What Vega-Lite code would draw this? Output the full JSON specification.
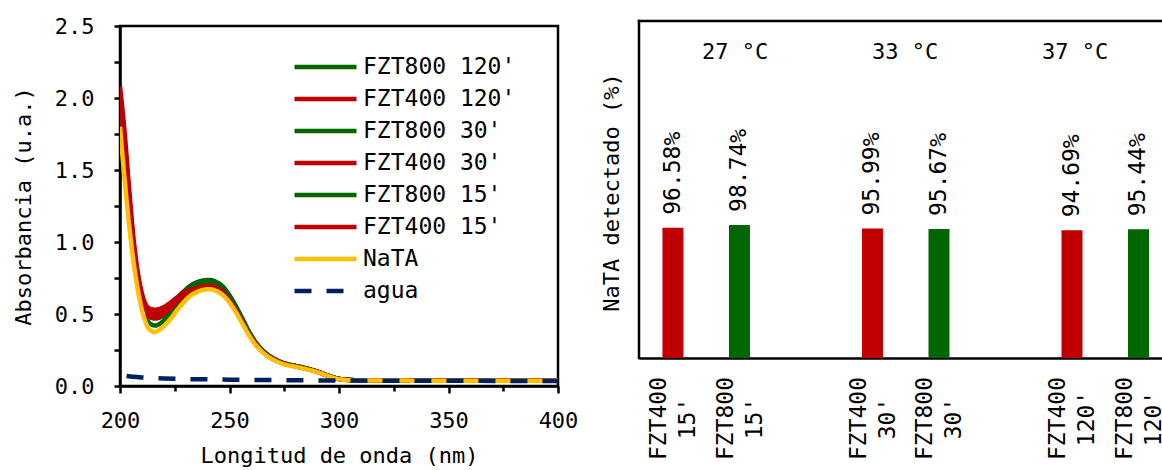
{
  "$schema": "https://vega.github.io/schema/vega-lite/v6.json",
  "background": "white",
  "padding": {"left": 11, "top": 13, "right": 0, "bottom": 0},
  "spacing": 20,
  "resolve": {
    "scale": {"color": "independent", "strokeDash": "independent"},
    "legend": {"color": "independent", "strokeDash": "independent"}
  },
  "config": {
    "font": "DejaVu Sans Mono",
    "axis": {
      "labelFont": "DejaVu Sans Mono",
      "titleFont": "DejaVu Sans Mono",
      "labelFontSize": 22,
      "titleFontSize": 22,
      "titleFontWeight": "normal",
      "labelColor": "black",
      "titleColor": "black",
      "domainColor": "black",
      "tickColor": "black",
      "domainWidth": 2.5,
      "tickWidth": 2.5,
      "labelFlush": false,
      "grid": false
    },
    "legend": {
      "labelFont": "DejaVu Sans Mono",
      "labelFontSize": 23,
      "labelColor": "black"
    }
  },
  "datasets": {
    "espectros": [
      {"s":"FZT800 120'","nm":200,"a":1.88},{"s":"FZT800 120'","nm":202,"a":1.57},{"s":"FZT800 120'","nm":204,"a":1.26},{"s":"FZT800 120'","nm":206,"a":0.99},{"s":"FZT800 120'","nm":208,"a":0.78},{"s":"FZT800 120'","nm":210,"a":0.63},{"s":"FZT800 120'","nm":212,"a":0.54},{"s":"FZT800 120'","nm":214,"a":0.505},{"s":"FZT800 120'","nm":216,"a":0.5},{"s":"FZT800 120'","nm":218,"a":0.505},{"s":"FZT800 120'","nm":220,"a":0.52},{"s":"FZT800 120'","nm":223,"a":0.56},{"s":"FZT800 120'","nm":226,"a":0.607},{"s":"FZT800 120'","nm":229,"a":0.655},{"s":"FZT800 120'","nm":232,"a":0.695},{"s":"FZT800 120'","nm":235,"a":0.72},{"s":"FZT800 120'","nm":238,"a":0.733},{"s":"FZT800 120'","nm":241,"a":0.736},{"s":"FZT800 120'","nm":244,"a":0.722},{"s":"FZT800 120'","nm":247,"a":0.69},{"s":"FZT800 120'","nm":250,"a":0.63},{"s":"FZT800 120'","nm":253,"a":0.552},{"s":"FZT800 120'","nm":256,"a":0.465},{"s":"FZT800 120'","nm":259,"a":0.376},{"s":"FZT800 120'","nm":262,"a":0.303},{"s":"FZT800 120'","nm":265,"a":0.25},{"s":"FZT800 120'","nm":268,"a":0.212},{"s":"FZT800 120'","nm":271,"a":0.185},{"s":"FZT800 120'","nm":275,"a":0.158},{"s":"FZT800 120'","nm":280,"a":0.141},{"s":"FZT800 120'","nm":285,"a":0.123},{"s":"FZT800 120'","nm":290,"a":0.101},{"s":"FZT800 120'","nm":295,"a":0.073},{"s":"FZT800 120'","nm":300,"a":0.05},{"s":"FZT800 120'","nm":305,"a":0.042},{"s":"FZT800 120'","nm":310,"a":0.04},{"s":"FZT800 120'","nm":350,"a":0.038},{"s":"FZT800 120'","nm":400,"a":0.037},
      {"s":"FZT400 120'","nm":200,"a":2.08},{"s":"FZT400 120'","nm":202,"a":1.78},{"s":"FZT400 120'","nm":204,"a":1.4},{"s":"FZT400 120'","nm":206,"a":1.05},{"s":"FZT400 120'","nm":208,"a":0.8},{"s":"FZT400 120'","nm":210,"a":0.645},{"s":"FZT400 120'","nm":212,"a":0.56},{"s":"FZT400 120'","nm":214,"a":0.535},{"s":"FZT400 120'","nm":216,"a":0.53},{"s":"FZT400 120'","nm":218,"a":0.535},{"s":"FZT400 120'","nm":220,"a":0.548},{"s":"FZT400 120'","nm":223,"a":0.578},{"s":"FZT400 120'","nm":226,"a":0.615},{"s":"FZT400 120'","nm":229,"a":0.652},{"s":"FZT400 120'","nm":232,"a":0.68},{"s":"FZT400 120'","nm":235,"a":0.697},{"s":"FZT400 120'","nm":238,"a":0.707},{"s":"FZT400 120'","nm":241,"a":0.709},{"s":"FZT400 120'","nm":244,"a":0.696},{"s":"FZT400 120'","nm":247,"a":0.665},{"s":"FZT400 120'","nm":250,"a":0.605},{"s":"FZT400 120'","nm":253,"a":0.53},{"s":"FZT400 120'","nm":256,"a":0.446},{"s":"FZT400 120'","nm":259,"a":0.362},{"s":"FZT400 120'","nm":262,"a":0.293},{"s":"FZT400 120'","nm":265,"a":0.242},{"s":"FZT400 120'","nm":268,"a":0.207},{"s":"FZT400 120'","nm":271,"a":0.181},{"s":"FZT400 120'","nm":275,"a":0.155},{"s":"FZT400 120'","nm":280,"a":0.138},{"s":"FZT400 120'","nm":285,"a":0.121},{"s":"FZT400 120'","nm":290,"a":0.1},{"s":"FZT400 120'","nm":295,"a":0.072},{"s":"FZT400 120'","nm":300,"a":0.049},{"s":"FZT400 120'","nm":305,"a":0.041},{"s":"FZT400 120'","nm":310,"a":0.039},{"s":"FZT400 120'","nm":350,"a":0.037},{"s":"FZT400 120'","nm":400,"a":0.036},
      {"s":"FZT800 30'","nm":200,"a":1.86},{"s":"FZT800 30'","nm":202,"a":1.54},{"s":"FZT800 30'","nm":204,"a":1.23},{"s":"FZT800 30'","nm":206,"a":0.96},{"s":"FZT800 30'","nm":208,"a":0.76},{"s":"FZT800 30'","nm":210,"a":0.61},{"s":"FZT800 30'","nm":212,"a":0.52},{"s":"FZT800 30'","nm":214,"a":0.48},{"s":"FZT800 30'","nm":216,"a":0.47},{"s":"FZT800 30'","nm":218,"a":0.475},{"s":"FZT800 30'","nm":220,"a":0.495},{"s":"FZT800 30'","nm":223,"a":0.54},{"s":"FZT800 30'","nm":226,"a":0.59},{"s":"FZT800 30'","nm":229,"a":0.64},{"s":"FZT800 30'","nm":232,"a":0.68},{"s":"FZT800 30'","nm":235,"a":0.705},{"s":"FZT800 30'","nm":238,"a":0.72},{"s":"FZT800 30'","nm":241,"a":0.724},{"s":"FZT800 30'","nm":244,"a":0.712},{"s":"FZT800 30'","nm":247,"a":0.68},{"s":"FZT800 30'","nm":250,"a":0.622},{"s":"FZT800 30'","nm":253,"a":0.545},{"s":"FZT800 30'","nm":256,"a":0.46},{"s":"FZT800 30'","nm":259,"a":0.372},{"s":"FZT800 30'","nm":262,"a":0.3},{"s":"FZT800 30'","nm":265,"a":0.247},{"s":"FZT800 30'","nm":268,"a":0.21},{"s":"FZT800 30'","nm":271,"a":0.183},{"s":"FZT800 30'","nm":275,"a":0.157},{"s":"FZT800 30'","nm":280,"a":0.14},{"s":"FZT800 30'","nm":285,"a":0.122},{"s":"FZT800 30'","nm":290,"a":0.1},{"s":"FZT800 30'","nm":295,"a":0.072},{"s":"FZT800 30'","nm":300,"a":0.05},{"s":"FZT800 30'","nm":305,"a":0.042},{"s":"FZT800 30'","nm":310,"a":0.04},{"s":"FZT800 30'","nm":350,"a":0.038},{"s":"FZT800 30'","nm":400,"a":0.037},
      {"s":"FZT400 30'","nm":200,"a":2.04},{"s":"FZT400 30'","nm":202,"a":1.73},{"s":"FZT400 30'","nm":204,"a":1.36},{"s":"FZT400 30'","nm":206,"a":1.02},{"s":"FZT400 30'","nm":208,"a":0.78},{"s":"FZT400 30'","nm":210,"a":0.62},{"s":"FZT400 30'","nm":212,"a":0.535},{"s":"FZT400 30'","nm":214,"a":0.505},{"s":"FZT400 30'","nm":216,"a":0.5},{"s":"FZT400 30'","nm":218,"a":0.505},{"s":"FZT400 30'","nm":220,"a":0.52},{"s":"FZT400 30'","nm":223,"a":0.555},{"s":"FZT400 30'","nm":226,"a":0.597},{"s":"FZT400 30'","nm":229,"a":0.638},{"s":"FZT400 30'","nm":232,"a":0.668},{"s":"FZT400 30'","nm":235,"a":0.688},{"s":"FZT400 30'","nm":238,"a":0.7},{"s":"FZT400 30'","nm":241,"a":0.703},{"s":"FZT400 30'","nm":244,"a":0.69},{"s":"FZT400 30'","nm":247,"a":0.66},{"s":"FZT400 30'","nm":250,"a":0.6},{"s":"FZT400 30'","nm":253,"a":0.527},{"s":"FZT400 30'","nm":256,"a":0.443},{"s":"FZT400 30'","nm":259,"a":0.36},{"s":"FZT400 30'","nm":262,"a":0.292},{"s":"FZT400 30'","nm":265,"a":0.241},{"s":"FZT400 30'","nm":268,"a":0.206},{"s":"FZT400 30'","nm":271,"a":0.18},{"s":"FZT400 30'","nm":275,"a":0.155},{"s":"FZT400 30'","nm":280,"a":0.138},{"s":"FZT400 30'","nm":285,"a":0.121},{"s":"FZT400 30'","nm":290,"a":0.099},{"s":"FZT400 30'","nm":295,"a":0.071},{"s":"FZT400 30'","nm":300,"a":0.049},{"s":"FZT400 30'","nm":305,"a":0.041},{"s":"FZT400 30'","nm":310,"a":0.039},{"s":"FZT400 30'","nm":350,"a":0.037},{"s":"FZT400 30'","nm":400,"a":0.036},
      {"s":"FZT800 15'","nm":200,"a":1.84},{"s":"FZT800 15'","nm":202,"a":1.5},{"s":"FZT800 15'","nm":204,"a":1.19},{"s":"FZT800 15'","nm":206,"a":0.93},{"s":"FZT800 15'","nm":208,"a":0.72},{"s":"FZT800 15'","nm":210,"a":0.57},{"s":"FZT800 15'","nm":212,"a":0.47},{"s":"FZT800 15'","nm":214,"a":0.43},{"s":"FZT800 15'","nm":216,"a":0.42},{"s":"FZT800 15'","nm":218,"a":0.43},{"s":"FZT800 15'","nm":220,"a":0.455},{"s":"FZT800 15'","nm":223,"a":0.505},{"s":"FZT800 15'","nm":226,"a":0.565},{"s":"FZT800 15'","nm":229,"a":0.62},{"s":"FZT800 15'","nm":232,"a":0.663},{"s":"FZT800 15'","nm":235,"a":0.69},{"s":"FZT800 15'","nm":238,"a":0.707},{"s":"FZT800 15'","nm":241,"a":0.712},{"s":"FZT800 15'","nm":244,"a":0.7},{"s":"FZT800 15'","nm":247,"a":0.67},{"s":"FZT800 15'","nm":250,"a":0.615},{"s":"FZT800 15'","nm":253,"a":0.54},{"s":"FZT800 15'","nm":256,"a":0.455},{"s":"FZT800 15'","nm":259,"a":0.37},{"s":"FZT800 15'","nm":262,"a":0.297},{"s":"FZT800 15'","nm":265,"a":0.245},{"s":"FZT800 15'","nm":268,"a":0.208},{"s":"FZT800 15'","nm":271,"a":0.182},{"s":"FZT800 15'","nm":275,"a":0.156},{"s":"FZT800 15'","nm":280,"a":0.139},{"s":"FZT800 15'","nm":285,"a":0.121},{"s":"FZT800 15'","nm":290,"a":0.1},{"s":"FZT800 15'","nm":295,"a":0.072},{"s":"FZT800 15'","nm":300,"a":0.05},{"s":"FZT800 15'","nm":305,"a":0.042},{"s":"FZT800 15'","nm":310,"a":0.04},{"s":"FZT800 15'","nm":350,"a":0.038},{"s":"FZT800 15'","nm":400,"a":0.037},
      {"s":"FZT400 15'","nm":200,"a":2.0},{"s":"FZT400 15'","nm":202,"a":1.68},{"s":"FZT400 15'","nm":204,"a":1.31},{"s":"FZT400 15'","nm":206,"a":0.99},{"s":"FZT400 15'","nm":208,"a":0.76},{"s":"FZT400 15'","nm":210,"a":0.6},{"s":"FZT400 15'","nm":212,"a":0.51},{"s":"FZT400 15'","nm":214,"a":0.475},{"s":"FZT400 15'","nm":216,"a":0.47},{"s":"FZT400 15'","nm":218,"a":0.48},{"s":"FZT400 15'","nm":220,"a":0.5},{"s":"FZT400 15'","nm":223,"a":0.54},{"s":"FZT400 15'","nm":226,"a":0.585},{"s":"FZT400 15'","nm":229,"a":0.628},{"s":"FZT400 15'","nm":232,"a":0.66},{"s":"FZT400 15'","nm":235,"a":0.68},{"s":"FZT400 15'","nm":238,"a":0.692},{"s":"FZT400 15'","nm":241,"a":0.695},{"s":"FZT400 15'","nm":244,"a":0.683},{"s":"FZT400 15'","nm":247,"a":0.652},{"s":"FZT400 15'","nm":250,"a":0.595},{"s":"FZT400 15'","nm":253,"a":0.522},{"s":"FZT400 15'","nm":256,"a":0.44},{"s":"FZT400 15'","nm":259,"a":0.358},{"s":"FZT400 15'","nm":262,"a":0.29},{"s":"FZT400 15'","nm":265,"a":0.24},{"s":"FZT400 15'","nm":268,"a":0.205},{"s":"FZT400 15'","nm":271,"a":0.179},{"s":"FZT400 15'","nm":275,"a":0.154},{"s":"FZT400 15'","nm":280,"a":0.137},{"s":"FZT400 15'","nm":285,"a":0.12},{"s":"FZT400 15'","nm":290,"a":0.099},{"s":"FZT400 15'","nm":295,"a":0.071},{"s":"FZT400 15'","nm":300,"a":0.049},{"s":"FZT400 15'","nm":305,"a":0.041},{"s":"FZT400 15'","nm":310,"a":0.039},{"s":"FZT400 15'","nm":350,"a":0.037},{"s":"FZT400 15'","nm":400,"a":0.036},
      {"s":"NaTA","nm":200,"a":1.8},{"s":"NaTA","nm":202,"a":1.45},{"s":"NaTA","nm":204,"a":1.14},{"s":"NaTA","nm":206,"a":0.88},{"s":"NaTA","nm":208,"a":0.68},{"s":"NaTA","nm":210,"a":0.53},{"s":"NaTA","nm":212,"a":0.43},{"s":"NaTA","nm":214,"a":0.385},{"s":"NaTA","nm":216,"a":0.375},{"s":"NaTA","nm":218,"a":0.39},{"s":"NaTA","nm":220,"a":0.415},{"s":"NaTA","nm":223,"a":0.465},{"s":"NaTA","nm":226,"a":0.525},{"s":"NaTA","nm":229,"a":0.58},{"s":"NaTA","nm":232,"a":0.625},{"s":"NaTA","nm":235,"a":0.652},{"s":"NaTA","nm":238,"a":0.668},{"s":"NaTA","nm":241,"a":0.672},{"s":"NaTA","nm":244,"a":0.66},{"s":"NaTA","nm":247,"a":0.63},{"s":"NaTA","nm":250,"a":0.58},{"s":"NaTA","nm":253,"a":0.51},{"s":"NaTA","nm":256,"a":0.43},{"s":"NaTA","nm":259,"a":0.35},{"s":"NaTA","nm":262,"a":0.285},{"s":"NaTA","nm":265,"a":0.235},{"s":"NaTA","nm":268,"a":0.2},{"s":"NaTA","nm":271,"a":0.175},{"s":"NaTA","nm":275,"a":0.15},{"s":"NaTA","nm":280,"a":0.134},{"s":"NaTA","nm":285,"a":0.117},{"s":"NaTA","nm":290,"a":0.097},{"s":"NaTA","nm":295,"a":0.07},{"s":"NaTA","nm":300,"a":0.048},{"s":"NaTA","nm":305,"a":0.04},{"s":"NaTA","nm":310,"a":0.038},{"s":"NaTA","nm":350,"a":0.037},{"s":"NaTA","nm":400,"a":0.036},
      {"s":"agua","nm":203,"a":0.07},{"s":"agua","nm":206,"a":0.064},{"s":"agua","nm":210,"a":0.059},{"s":"agua","nm":215,"a":0.055},{"s":"agua","nm":220,"a":0.052},{"s":"agua","nm":230,"a":0.048},{"s":"agua","nm":240,"a":0.046},{"s":"agua","nm":250,"a":0.044},{"s":"agua","nm":270,"a":0.041},{"s":"agua","nm":300,"a":0.038},{"s":"agua","nm":350,"a":0.036},{"s":"agua","nm":400,"a":0.035}
    ],
    "nata": [
      {"muestra":"FZT400 15'","material":"FZT400","p":0.9658},
      {"muestra":"FZT800 15'","material":"FZT800","p":0.9874},
      {"muestra":"FZT400 30'","material":"FZT400","p":0.9599},
      {"muestra":"FZT800 30'","material":"FZT800","p":0.9567},
      {"muestra":"FZT400 120'","material":"FZT400","p":0.9469},
      {"muestra":"FZT800 120'","material":"FZT800","p":0.9544}
    ],
    "temperaturas": [
      {"t":"27 °C","orden":1},
      {"t":"33 °C","orden":2},
      {"t":"37 °C","orden":3}
    ]
  },
  "hconcat": [
    {
      "width": 438,
      "height": 360,
      "view": {"stroke": "black", "strokeWidth": 2.5},
      "data": {"name": "espectros"},
      "mark": {"type": "line", "strokeWidth": 4.5, "interpolate": "monotone", "clip": true},
      "encoding": {
        "x": {
          "field": "nm", "type": "quantitative",
          "scale": {"domain": [200, 400], "nice": false},
          "axis": {
            "title": "Longitud de onda (nm)",
            "values": [200, 225, 250, 275, 300, 325, 350, 375, 400],
            "labelExpr": "datum.value % 50 === 0 ? datum.label : ''",
            "tickSize": {"condition": {"test": "datum.value % 50 === 0", "value": 7}, "value": 5},
            "labelPadding": 17,
            "titlePadding": 14
          }
        },
        "y": {
          "field": "a", "type": "quantitative",
          "scale": {"domain": [0, 2.5], "nice": false},
          "axis": {
            "title": "Absorbancia (u.a.)",
            "values": [0, 0.25, 0.5, 0.75, 1, 1.25, 1.5, 1.75, 2, 2.25, 2.5],
            "labelExpr": "datum.value % 0.5 === 0 ? format(datum.value, '.1f') : ''",
            "tickSize": 6,
            "labelPadding": 20,
            "titlePadding": 19
          }
        },
        "color": {
          "field": "s", "type": "nominal",
          "scale": {
            "domain": ["FZT800 120'", "FZT400 120'", "FZT800 30'", "FZT400 30'", "FZT800 15'", "FZT400 15'", "NaTA", "agua"],
            "range": ["#006600", "#C00000", "#006600", "#C00000", "#006600", "#C00000", "#FFC000", "#002060"]
          },
          "legend": {
            "title": null,
            "orient": "none",
            "legendX": 172,
            "legendY": 28,
            "symbolType": "stroke",
            "symbolSize": 3844,
            "symbolStrokeWidth": 4.5,
            "clipHeight": 26,
            "rowPadding": 6,
            "labelOffset": 4
          }
        },
        "strokeDash": {
          "field": "s", "type": "nominal",
          "scale": {
            "domain": ["FZT800 120'", "FZT400 120'", "FZT800 30'", "FZT400 30'", "FZT800 15'", "FZT400 15'", "NaTA", "agua"],
            "range": [[1, 0], [1, 0], [1, 0], [1, 0], [1, 0], [1, 0], [1, 0], [17, 15]]
          },
          "legend": {
            "title": null,
            "orient": "none",
            "legendX": 172,
            "legendY": 28,
            "symbolType": "stroke",
            "symbolSize": 3844,
            "symbolStrokeWidth": 4.5,
            "clipHeight": 26,
            "rowPadding": 6,
            "labelOffset": 4
          }
        }
      }
    },
    {
      "width": 523,
      "height": 332,
      "view": {"stroke": null},
      "layer": [
        {
          "data": {"name": "nata"},
          "layer": [
            {
              "mark": {"type": "bar", "width": 21},
              "encoding": {
                "x": {
                  "field": "muestra", "type": "nominal",
                  "scale": {
                    "type": "point",
                    "domain": ["FZT400 15'", "FZT800 15'", " ", "FZT400 30'", "FZT800 30'", "  ", "FZT400 120'", "FZT800 120'"],
                    "padding": 0.432,
                    "align": 0.591
                  },
                  "axis": {
                    "title": null,
                    "ticks": false,
                    "labelAngle": 270,
                    "labelAlign": "center",
                    "labelBaseline": "middle",
                    "labelPadding": 60,
                    "labelOffset": -14,
                    "labelFontSize": 23,
                    "labelLineHeight": 29,
                    "labelExpr": "split(datum.value, ' ')"
                  }
                },
                "y": {
                  "field": "p", "type": "quantitative",
                  "scale": {"domain": [0, 2.463], "nice": false},
                  "axis": {"title": "NaTA detectado (%)", "labels": false, "ticks": false, "domain": false, "titlePadding": 16}
                },
                "color": {
                  "field": "material", "type": "nominal",
                  "scale": {"domain": ["FZT400", "FZT800"], "range": ["#C00000", "#006600"]},
                  "legend": null
                }
              }
            },
            {
              "mark": {"type": "text", "angle": 270, "align": "left", "baseline": "middle", "dx": 13, "fontSize": 23, "font": "DejaVu Sans Mono", "color": "black"},
              "encoding": {
                "x": {"field": "muestra", "type": "nominal"},
                "y": {"field": "p", "type": "quantitative"},
                "text": {"field": "p", "type": "quantitative", "format": ".2%"}
              }
            }
          ]
        },
        {
          "data": {"values": [{}]},
          "mark": {"type": "rule", "stroke": "black", "strokeWidth": 2.5, "strokeCap": "square"},
          "encoding": {"y": {"datum": 2.5}}
        },
        {
          "data": {"values": [{}]},
          "mark": {"type": "rule", "stroke": "black", "strokeWidth": 2.5, "strokeCap": "square"},
          "encoding": {
            "x": {"datum": 0, "type": "quantitative", "scale": {"domain": [0, 1], "nice": false}, "axis": null},
            "y": {"datum": 0},
            "y2": {"datum": 2.5}
          }
        },
        {
          "data": {"name": "temperaturas"},
          "mark": {"type": "text", "baseline": "top", "dy": 21, "fontSize": 22, "font": "DejaVu Sans Mono", "color": "black"},
          "encoding": {
            "x": {"field": "orden", "type": "quantitative", "scale": {"domain": [0.435, 3.511], "nice": false, "zero": false}, "axis": null},
            "y": {"datum": 2.5},
            "text": {"field": "t"}
          }
        }
      ],
      "resolve": {"scale": {"x": "independent"}}
    }
  ]
}
